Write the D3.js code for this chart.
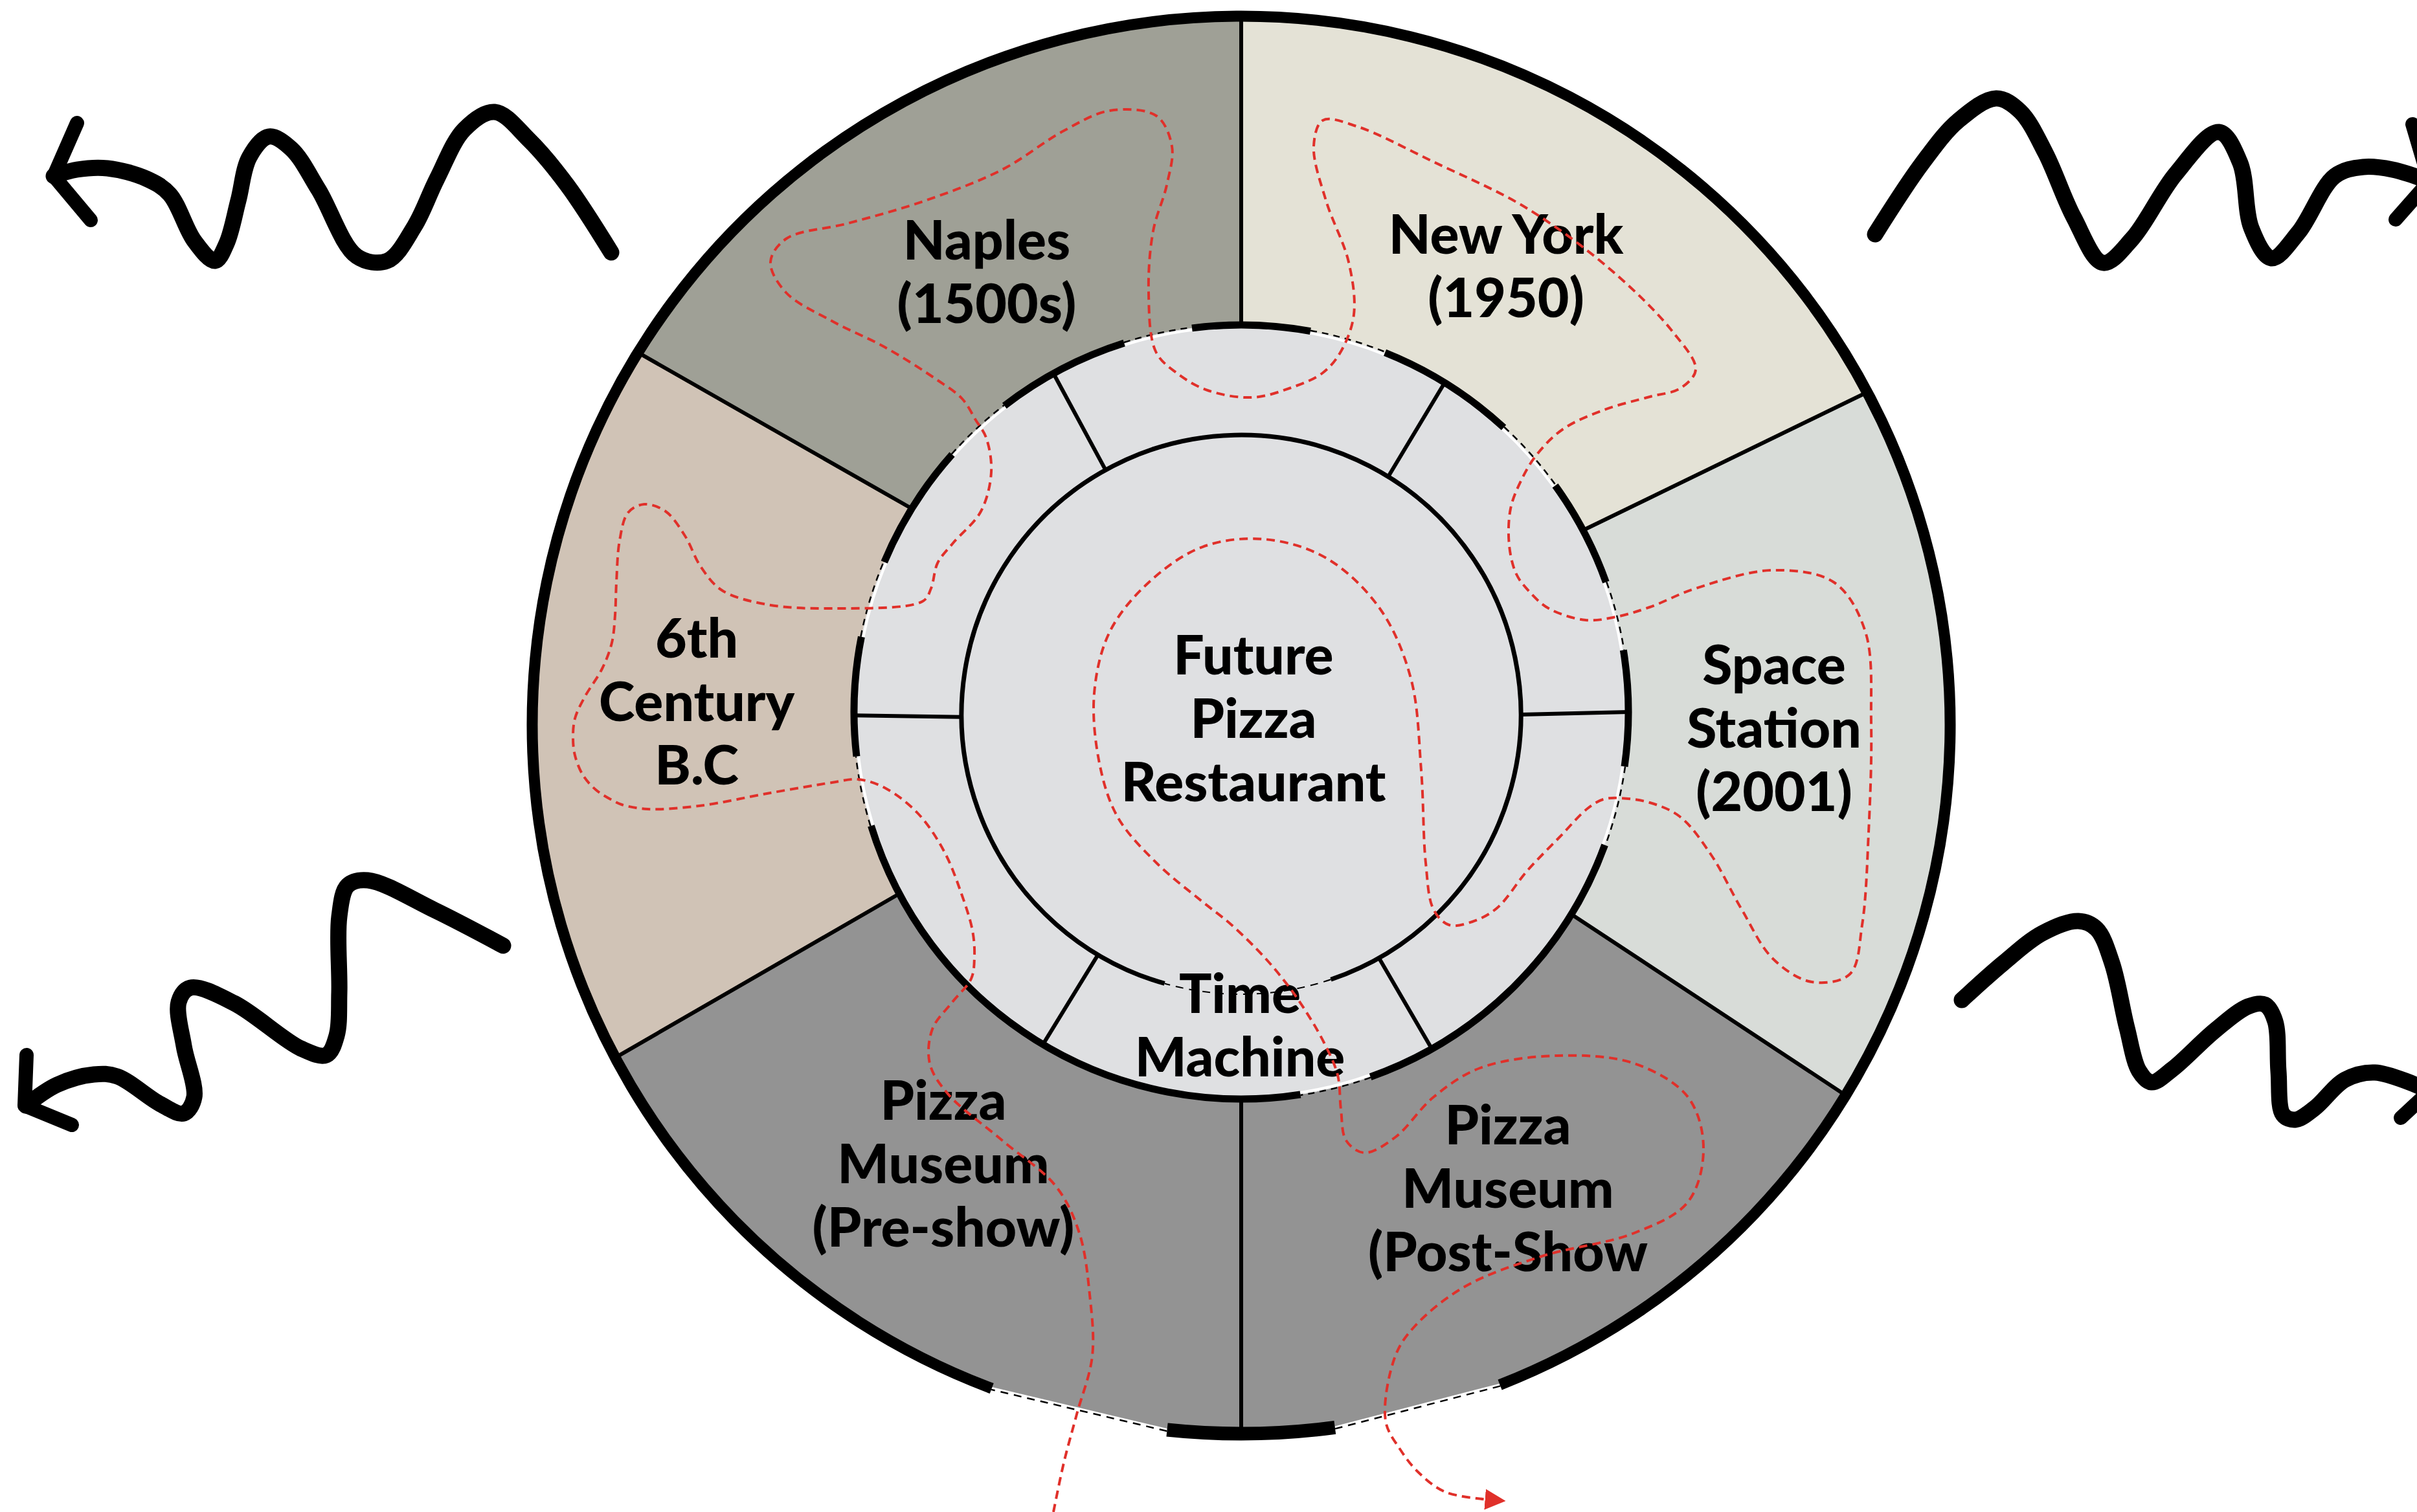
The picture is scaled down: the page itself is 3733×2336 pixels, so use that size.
<!DOCTYPE html>
<html>
<head>
<meta charset="utf-8">
<script src="https://cdn.jsdelivr.net/npm/d3@7"></script>
<style>
body { margin: 0; background: #fff; }
svg { display: block; }
</style>
</head>
<body>
<svg id="plan" width="3733" height="2336"></svg>
<script>
// ---- data ----
const roomNames = [
    ["New York", "(1950)"],
    ["Space", "Station", "(2001)"],
    ["Pizza", "Museum", "(Post-Show"],
    ["Pizza", "Museum", "(Pre-show)"],
    ["6th", "Century", "B.C"],
    ["Naples", "(1500s)"]
];
const roomStart = [0, 62, 121.5, 180, 242, 301.7];
const roomEnd = [62, 121.5, 180, 242, 301.7, 360];
const roomColors = ["#e4e2d6", "#d8dcd8", "#939393", "#939393", "#d0c3b6", "#9fa096"];

const hubNames = [["Future", "Pizza", "Restaurant"], ["Time", "Machine"]];

// ring partitions and walls (degrees clockwise from north)
const ringDividers = [31.7, 90, 150.5, 210.8, 269.5, 331];
const ringWalls = [[352.7, 370.3], [21.8, 42.7], [54.2, 70.4], [80.8, 98.1], [110.1, 160.5],
    [171.2, 252.9], [263.4, 281.2], [292.8, 311.7], [322.3, 342.4]];
const hubWalls = [[195.9, 521.3]];
const hubDoors = [[161.3, 195.9]];
const outerWalls = [[200.6, 518.6], [172.4, 186.0]];
const outerDoors = [[158.6, 172.4], [186.0, 200.6]];

// visitor route (picture px)
const routeX = [1627, 1643, 1663, 1687, 1683, 1667, 1631, 1548, 1464, 1436, 1440, 1471, 1500, 1505,
    1502, 1485, 1458, 1418, 1368, 1325, 1285, 1190, 1080, 1000, 960, 947, 920, 900, 888, 885, 888, 903, 930, 945, 950,
    952, 957, 970, 995, 1028, 1058, 1082, 1115, 1185, 1285,
    1425, 1438, 1448, 1472, 1515, 1531, 1523, 1507, 1486, 1446, 1366, 1285,
    1214, 1190, 1214, 1310, 1429, 1548, 1643, 1714, 1786, 1810, 1802, 1781, 1774,
    1785, 1817, 1865, 1934, 1994, 2043, 2071, 2091,
    2083, 2048, 2029, 2043, 2095, 2214, 2357, 2488, 2583, 2619, 2595,
    2548, 2478, 2414, 2373, 2349, 2333, 2331, 2342, 2362, 2392, 2449, 2496, 2548,
    2619, 2738, 2833, 2881, 2890, 2886, 2876, 2857, 2798, 2738, 2690, 2643, 2595,
    2548, 2502, 2476, 2452, 2409, 2359, 2312,
    2274, 2238, 2214, 2202, 2195, 2179, 2131, 2048, 1952, 1857, 1774, 1714, 1690, 1698, 1726, 1786, 1857,
    1901, 1952, 1988, 2014, 2045, 2066, 2071,
    2079, 2107, 2155, 2214, 2286, 2405, 2524, 2607, 2631, 2607, 2524, 2381, 2262, 2186, 2155,
    2140, 2163, 2191, 2232, 2300];
const routeY = [2336, 2260, 2185, 2095, 2000, 1905, 1833, 1762, 1690, 1643, 1590, 1548, 1512, 1477,
    1438, 1381, 1315, 1257, 1218, 1204, 1209, 1225, 1245, 1250, 1243, 1237, 1220, 1197, 1167, 1140, 1110, 1077, 1033, 993, 950,
    900, 835, 792, 779, 790, 828, 875, 912, 934, 940,
    929, 909, 870, 839, 790, 729, 676, 649, 616, 586, 536, 496,
    452, 405, 369, 345, 310, 262, 202, 171, 179, 226, 286, 357, 452,
    543, 576, 603, 614, 599, 576, 543, 486,
    405, 310, 226, 186, 195, 250, 321, 417, 512, 571, 600,
    613, 633, 663, 703, 743, 786, 843, 887, 914, 940, 958, 953, 938,
    909, 881, 900, 976, 1119, 1286, 1429, 1505, 1517, 1481, 1405, 1321, 1262,
    1240, 1233, 1235, 1249, 1293, 1345, 1403,
    1424, 1429, 1405, 1333, 1190, 1048, 940, 862, 833, 845, 900, 976, 1071, 1179, 1262, 1333, 1393,
    1428, 1478, 1521, 1558, 1611, 1661, 1714,
    1762, 1781, 1757, 1695, 1650, 1631, 1643, 1695, 1774, 1857, 1905, 1941, 1988, 2048, 2095,
    2195, 2240, 2275, 2305, 2317];

// wavy arrows (picture px)
const waveTL = [[944, 390], [876, 286], [817, 216], [764, 173], [717, 200], [675, 276], [640, 350], [598, 403], [551, 396],
    [492, 293], [450, 230], [415, 211], [385, 243], [368, 310], [350, 376], [332, 403], [300, 372], [262, 300], [226, 276],
    [166, 260], [119, 262], [83, 272]];
const waveTR = [[2896, 362], [2969, 252], [3025, 186], [3083, 152], [3120, 172], [3159, 236], [3203, 336], [3248, 406],
    [3293, 369], [3360, 269], [3427, 204], [3460, 252], [3477, 352], [3508, 399], [3550, 359], [3606, 272], [3650, 258],
    [3695, 262], [3752, 280]];
const waveBL = [[777, 1461], [671, 1406], [568, 1360], [537, 1368], [524, 1416], [524, 1533], [520, 1600], [504, 1630],
    [465, 1620], [362, 1550], [294, 1526], [276, 1548], [284, 1616], [300, 1695], [284, 1720], [248, 1706], [181, 1663],
    [145, 1660], [88, 1676], [40, 1708]];
const waveBR = [[3030, 1545], [3094, 1488], [3154, 1442], [3210, 1423], [3238, 1435], [3262, 1488], [3285, 1588],
    [3304, 1655], [3323, 1672], [3355, 1652], [3421, 1592], [3472, 1555], [3498, 1552], [3514, 1578], [3519, 1655],
    [3526, 1722], [3545, 1730], [3575, 1712], [3622, 1668], [3668, 1657], [3745, 1682]];
const heads = [
    [[119, 190], [83, 272], [140, 340]],
    [[3726, 192], [3752, 280], [3700, 339]],
    [[41, 1630], [38, 1708], [111, 1738]],
    [[3708, 1727], [3750, 1688]]
];

// ---- layout ----
const svg = d3.select("#plan");
const width = +svg.attr("width");
const height = +svg.attr("height");
const x = d3.scaleLinear().domain([0, 3733]).range([0, width]);
const y = d3.scaleLinear().domain([0, 2336]).range([0, height]);
const ang = d3.scaleLinear().domain([0, 360]).range([-Math.PI / 2, 1.5 * Math.PI]);

const outer = {x: 1917, y: 1120, r: 1095};
const ring = {x: 1917, y: 1100, r: 598};
const hub = {x: 1917, y: 1104, r: 432};

function pt(c, r, deg) {
    const a = ang(deg);
    return [x(c.x + r * Math.cos(a)), y(c.y + r * Math.sin(a))];
}
function arcPath(c, r, a0, a1) {
    const p = d3.path();
    p.moveTo(...pt(c, r, a0));
    p.arc(x(c.x), y(c.y), r, ang(a0), ang(a1), false);
    return p.toString();
}
function roomPath(a0, a1) {
    const p = d3.path();
    p.moveTo(...pt(ring, ring.r, a0));
    p.lineTo(...pt(outer, outer.r, a0));
    p.arc(x(outer.x), y(outer.y), outer.r, ang(a0), ang(a1), false);
    p.lineTo(...pt(ring, ring.r, a1));
    p.arc(x(ring.x), y(ring.y), ring.r, ang(a1), ang(a0), true);
    p.closePath();
    return p.toString();
}
// gaps between walls
function gaps(walls) {
    const s = walls.map(w => [w[0] % 360, w[1] % 360 < w[0] % 360 ? w[1] % 360 + 360 : w[1] % 360])
        .sort((a, b) => a[0] - b[0]);
    return s.map((w, i) => {
        const n = s[(i + 1) % s.length];
        return [w[1], n[0] + (i + 1 === s.length ? 360 : 0)];
    });
}

const rooms = roomNames.map((n, i) => ({name: n, a0: roomStart[i], a1: roomEnd[i], color: roomColors[i]}));

svg.append("g")
    .selectAll("path")
    .data(rooms)
    .enter()
    .append("path")
    .attr("d", d => roomPath(d.a0, d.a1))
    .attr("fill", d => d.color);

// cut the doors in the outer wall
svg.append("g")
    .selectAll("path")
    .data(outerDoors)
    .enter()
    .append("path")
    .attr("d", d => {
        const p = d3.path();
        p.moveTo(...pt(outer, outer.r + 12, d[0]));
        p.arc(x(outer.x), y(outer.y), outer.r + 12, ang(d[0]), ang(d[1]), false);
        p.lineTo(...pt(outer, outer.r - 2, d[1]));
        p.lineTo(...pt(outer, outer.r - 2, d[0]));
        p.closePath();
        return p.toString();
    })
    .attr("fill", "#fff");

svg.append("circle")
    .attr("cx", x(ring.x)).attr("cy", y(ring.y)).attr("r", ring.r)
    .attr("fill", "#dfe0e2");

// radial walls between rooms
svg.append("g")
    .selectAll("line")
    .data(roomStart)
    .enter()
    .append("line")
    .attr("x1", d => pt(ring, ring.r, d)[0]).attr("y1", d => pt(ring, ring.r, d)[1])
    .attr("x2", d => pt(outer, outer.r, d)[0]).attr("y2", d => pt(outer, outer.r, d)[1])
    .attr("stroke", "#000").attr("stroke-width", 6);

svg.append("g")
    .selectAll("line")
    .data(ringDividers)
    .enter()
    .append("line")
    .attr("x1", d => pt(hub, hub.r, d)[0]).attr("y1", d => pt(hub, hub.r, d)[1])
    .attr("x2", d => pt(ring, ring.r, d)[0]).attr("y2", d => pt(ring, ring.r, d)[1])
    .attr("stroke", "#000").attr("stroke-width", 6);

// hub wall
const walls = svg.append("g").attr("fill", "none");
walls.selectAll(".hubwall").data(hubWalls).enter().append("path")
    .attr("d", d => arcPath(hub, hub.r, d[0], d[1]))
    .attr("stroke", "#000").attr("stroke-width", 7);
walls.selectAll(".hubdoor").data(hubDoors).enter().append("path")
    .attr("d", d => arcPath(hub, hub.r, d[0], d[1]))
    .attr("stroke", "#000").attr("stroke-width", 2).attr("stroke-dasharray", "12 9");

// ring wall
walls.selectAll(".ringgapw").data(gaps(ringWalls)).enter().append("path")
    .attr("d", d => arcPath(ring, ring.r - 3, d[0], d[1]))
    .attr("stroke", "#fff").attr("stroke-width", 4);
walls.selectAll(".ringgap").data(gaps(ringWalls)).enter().append("path")
    .attr("d", d => arcPath(ring, ring.r + 1, d[0], d[1]))
    .attr("stroke", "#000").attr("stroke-width", 2.5).attr("stroke-dasharray", "10 8");
walls.selectAll(".ringwall").data(ringWalls).enter().append("path")
    .attr("d", d => arcPath(ring, ring.r, d[0], d[1]))
    .attr("stroke", "#000").attr("stroke-width", 11);

// outer wall
walls.selectAll(".outerwall").data(outerWalls).enter().append("path")
    .attr("d", d => arcPath(outer, outer.r, d[0], d[1]))
    .attr("stroke", "#000").attr("stroke-width", (d, i) => i === 0 ? 17 : 21);
walls.selectAll(".outerdoor").data(outerDoors).enter().append("line")
    .attr("x1", d => pt(outer, outer.r + 2, d[0])[0]).attr("y1", d => pt(outer, outer.r + 2, d[0])[1])
    .attr("x2", d => pt(outer, outer.r + 2, d[1])[0]).attr("y2", d => pt(outer, outer.r + 2, d[1])[1])
    .attr("stroke", "#000").attr("stroke-width", 2.5).attr("stroke-dasharray", "12 9");

// labels
const labels = [
    {lines: roomNames[0], x: 2326, y: 392},
    {lines: roomNames[1], x: 2740, y: 1057},
    {lines: roomNames[2], x: 2329, y: 1768},
    {lines: roomNames[3], x: 1457, y: 1730},
    {lines: roomNames[4], x: 1076, y: 1016},
    {lines: roomNames[5], x: 1524, y: 401},
    {lines: hubNames[0], x: 1936, y: 1042},
    {lines: hubNames[1], x: 1915, y: 1565}
];
const txt = svg.append("g")
    .attr("font-family", "Lato, 'Noto Sans', sans-serif")
    .attr("font-weight", 900)
    .attr("font-size", 84)
    .attr("text-anchor", "middle")
    .attr("fill", "#000");
labels.forEach(l => {
    const t = txt.append("text").attr("x", x(l.x)).attr("y", y(l.y));
    l.lines.forEach((s, i) => {
        t.append("tspan").attr("x", x(l.x)).attr("dy", i === 0 ? 0 : 98).text(s);
    });
});

// visitor route
svg.append("defs").append("marker")
    .attr("id", "tip")
    .attr("viewBox", "0 0 10 10")
    .attr("refX", 2).attr("refY", 5)
    .attr("markerUnits", "userSpaceOnUse")
    .attr("markerWidth", 32).attr("markerHeight", 36)
    .attr("orient", "auto")
    .append("path")
    .attr("d", "M0,0L10,5L0,10Z")
    .attr("fill", "#e0302a");

const route = routeX.map((v, i) => [v, routeY[i]]);
const routeLine = d3.line()
    .x(d => x(d[0])).y(d => y(d[1]))
    .curve(d3.curveCatmullRom.alpha(0.5));
svg.append("path")
    .attr("d", routeLine(route))
    .attr("fill", "none")
    .attr("stroke", "#e0302a")
    .attr("stroke-width", 4)
    .attr("stroke-dasharray", "13 8")
    .attr("marker-end", "url(#tip)");

// wavy arrows
const wave = d3.line()
    .x(d => x(d[0])).y(d => y(d[1]))
    .curve(d3.curveCatmullRom.alpha(0.5));
svg.append("g")
    .selectAll("path")
    .data([waveTL, waveTR, waveBL, waveBR])
    .enter()
    .append("path")
    .attr("d", wave)
    .attr("fill", "none")
    .attr("stroke", "#000")
    .attr("stroke-width", 25)
    .attr("stroke-linecap", "round")
    .attr("stroke-linejoin", "round");
svg.append("g")
    .selectAll("path")
    .data(heads)
    .enter()
    .append("path")
    .attr("d", d3.line().x(d => x(d[0])).y(d => y(d[1])))
    .attr("fill", "none")
    .attr("stroke", "#000")
    .attr("stroke-width", 22)
    .attr("stroke-linecap", "round")
    .attr("stroke-linejoin", "round");
</script>
</body>
</html>
